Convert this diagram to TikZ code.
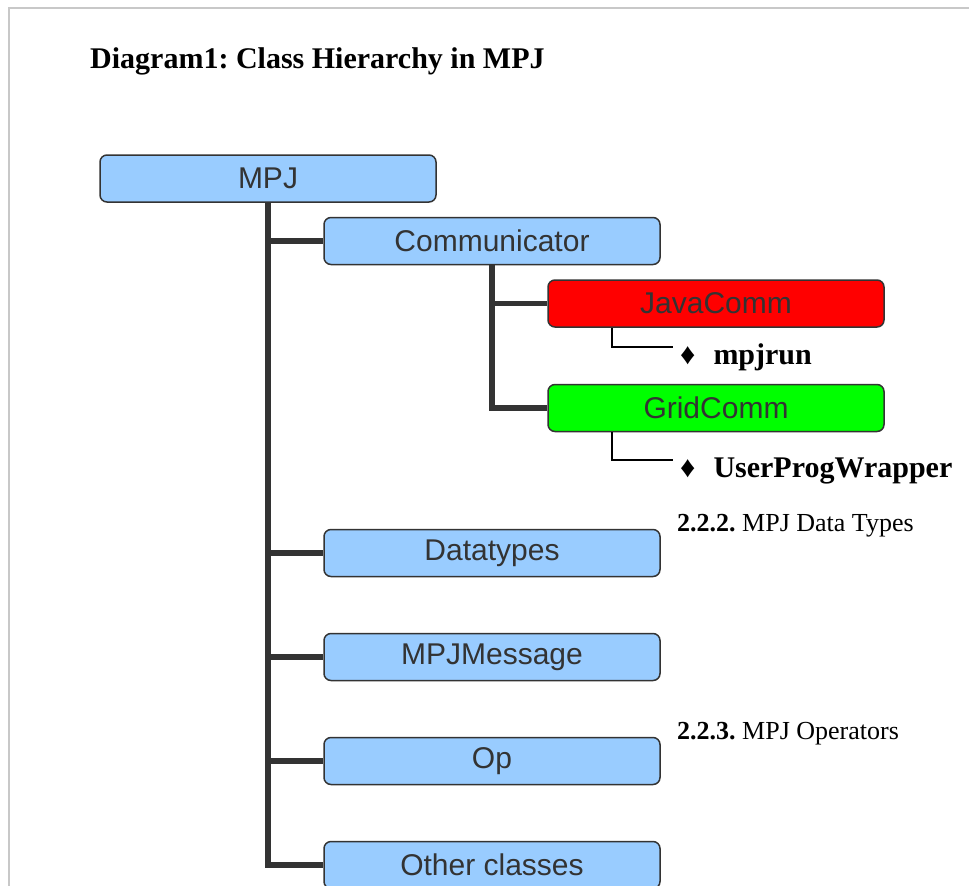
\documentclass[tikz,border=0pt]{standalone}
\usepackage{fontspec}
\setmainfont{Liberation Serif}
\setsansfont{Liberation Sans}
\usepackage{tikz}
\usetikzlibrary{positioning,calc}
\definecolor{boxblue}{HTML}{99CCFF}
\definecolor{boxedge}{HTML}{333333}
\definecolor{framegray}{HTML}{C8C8C8}
\frenchspacing

\begin{document}
\begin{tikzpicture} [x=1pt, y=-1pt]
%styles : boites des classes, traits de l'arbre
\tikzset{classbox/.style={draw=boxedge,line width=1.5pt,rounded corners=7pt,fill=boxblue,minimum width=336pt,minimum height=47pt,inner sep=0pt,text=boxedge,font=\sffamily\fontsize{30}{30}\selectfont}}
\tikzset{tree/.style={draw=boxedge,line width=5.5pt}}
\tikzset{leaf/.style={draw=black,line width=1.2pt}}
\tikzset{method/.style={anchor=base west,inner sep=0pt,font=\bfseries\fontsize{30}{30}\selectfont}}
\tikzset{section/.style={anchor=base west,inner sep=0pt,font=\fontsize{26}{26}\selectfont}}
\useasboundingbox (0,0) rectangle (969,886);
\clip (0,0) rectangle (969,886);
\draw[framegray,line width=2pt] (8.5,886) -- (8.5,7.5) -- (969,7.5);
\node[anchor=base west,inner sep=0pt,font=\bfseries\fontsize{30}{30}\selectfont] (title) at (90,68) {Diagram1: Class Hierarchy in MPJ};
%arbre principal
\node[classbox] (mpj) at (268,178.5) {MPJ};
\node[classbox] (comm) at (492,241) {Communicator};
\node[classbox,fill=red] (java) at (716,303.5) {JavaComm};
\node[classbox,fill=green] (grid) at (716,408) {GridComm};
\node[classbox] (dtype) at (492,553) {Datatypes};
\node[classbox] (msg) at (492,657) {MPJMessage};
\node[classbox] (op) at (492,761) {Op};
\node[classbox] (other) at (492,865) {Other classes};
\draw[tree] (mpj.south) |- (other.west);
\foreach \c in {comm,dtype,msg,op}
  \draw[tree] (mpj.south |- \c.west) -- (\c.west);
\draw[tree] (comm.south) |- (grid.west);
\draw[tree] (comm.south |- java.west) -- (java.west);
%methodes
\node[method] (run) at (680,364) {\char"2666\hspace{18pt}mpjrun};
\node[method] (wrap) at (680,477) {\char"2666\hspace{18pt}UserProgWrapper};
\draw[leaf] ([xshift=-104pt]java.south) |- ([xshift=-7pt,yshift=17pt]run.base west);
\draw[leaf] ([xshift=-104pt]grid.south) |- ([xshift=-7pt,yshift=17pt]wrap.base west);
%sections
\node[section] (sec1) at (677,531) {\textbf{2.2.2.} MPJ Data Types};
\node[section] (sec2) at (677,739) {\textbf{2.2.3.} MPJ Operators};
\end{tikzpicture}
\end{document}
